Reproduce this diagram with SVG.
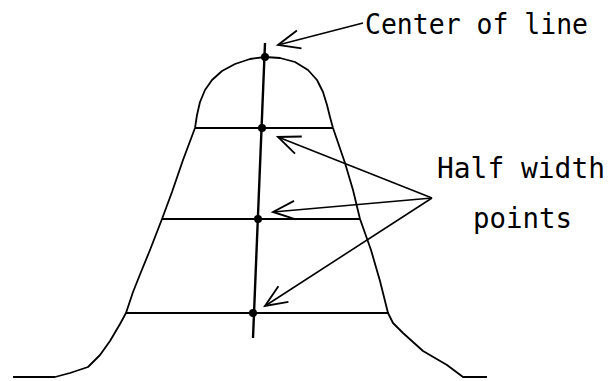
<svg xmlns="http://www.w3.org/2000/svg" width="613" height="381" viewBox="0 0 613 381">
  <style>
    .curve { fill: none; stroke: #000; stroke-width: 1.8; stroke-linejoin: round; }
    .hline { fill: none; stroke: #000; stroke-width: 2.2; }
    .axis { fill: none; stroke: #000; stroke-width: 2.4; }
    .dot { fill: #000; }
    .arrow { fill: none; stroke: #000; stroke-width: 1.6; marker-end: url(#openArrow); }
    .label { font-family: "DejaVu Sans Mono", "Liberation Mono", monospace; font-size: 29px; fill: #000; }
  </style>
  <defs>
    <marker id="openArrow" markerUnits="userSpaceOnUse" markerWidth="30" markerHeight="30" refX="0" refY="0" viewBox="-22 -12 26 24" orient="auto" overflow="visible">
      <path d="M -19,-8 L 0,0 L -19,8" fill="none" stroke="#000" stroke-width="1.6"/>
    </marker>
  </defs>
  <rect width="613" height="381" fill="#fff"/>

  <g id="profile">
    <path class="curve" d="M 13,377 L 55,377 L 70,373 L 88,367 L 100,355 L 110,341 L 120,324 L 126,313 L 133,292 L 141,272 L 150,250 L 162,219 L 172,192 L 183,160 L 195,128 L 197,115 L 200,102 L 205,90 L 212,80 L 222,71 L 235,64 L 250,59 L 265,57 L 280,58 L 295,62 L 308,70 L 317,80 L 323,92 L 327,105 L 330,117 L 333,128 L 345,163 L 353,190 L 360,219 L 371,250 L 380,281 L 388,313 L 393,323 L 403,333 L 423,351 L 447,365 L 463,377 L 487,377"/>
  </g>

  <g id="center-axis">
    <line class="axis" x1="265" y1="43" x2="253" y2="338"/>
  </g>

  <g id="half-width-lines">
    <line class="hline" x1="195" y1="128" x2="333" y2="128"/>
    <line class="hline" x1="162" y1="219" x2="360" y2="219"/>
    <line class="hline" x1="126" y1="313" x2="389" y2="313"/>
  </g>

  <g id="points">
    <circle class="dot" cx="265" cy="57" r="4"/>
    <circle class="dot" cx="262" cy="128" r="4"/>
    <circle class="dot" cx="258" cy="219" r="4"/>
    <circle class="dot" cx="253" cy="313" r="4"/>
  </g>

  <g id="connectors">
    <line class="arrow" x1="363" y1="23" x2="278" y2="45"/>
    <line class="arrow" x1="432" y1="198" x2="278" y2="137"/>
    <line class="arrow" x1="432" y1="198" x2="273" y2="212"/>
    <line class="arrow" x1="432" y1="198" x2="265" y2="306"/>
  </g>

  <g id="label-center">
    <text class="label" x="365" y="34" textLength="223" lengthAdjust="spacingAndGlyphs">Center of line</text>
  </g>
  <g id="label-half-width">
    <text class="label" x="437" y="178" textLength="168" lengthAdjust="spacingAndGlyphs">Half width</text>
    <text class="label" x="473" y="228" textLength="99" lengthAdjust="spacingAndGlyphs">points</text>
  </g>
</svg>
